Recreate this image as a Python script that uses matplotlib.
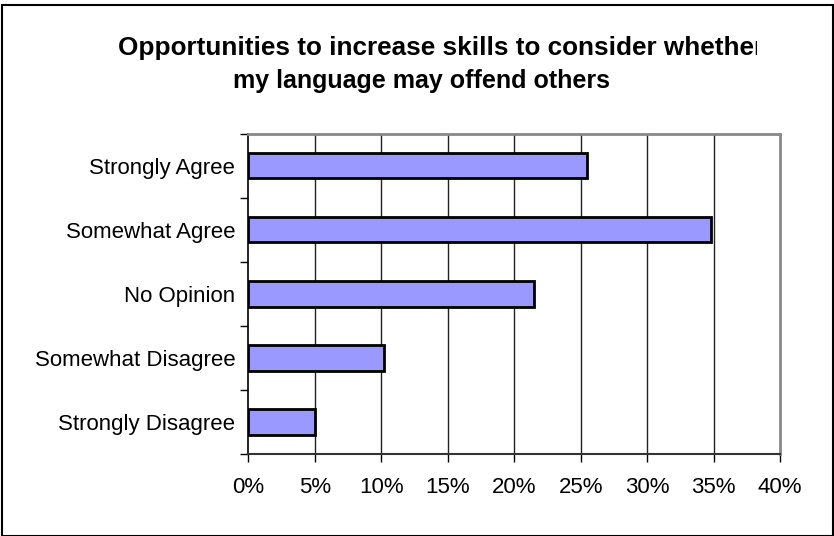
import matplotlib
matplotlib.use("Agg")
import matplotlib.pyplot as plt
from matplotlib.patches import Rectangle
from matplotlib.transforms import Bbox

categories = ["Strongly Agree", "Somewhat Agree", "No Opinion", "Somewhat Disagree", "Strongly Disagree"]
values = [25.5, 34.8, 21.5, 10.2, 5.0]
xticks = [0, 5, 10, 15, 20, 25, 30, 35, 40]
xticklabels = ["0%", "5%", "10%", "15%", "20%", "25%", "30%", "35%", "40%"]
title1 = "Opportunities to increase skills to consider whether"
title2 = "my language may offend others"

plt.rcParams['font.family'] = ['Liberation Sans', 'DejaVu Sans']

W, H = 834, 536
fig = plt.figure(figsize=(W / 100, H / 100), dpi=100)
ax = fig.add_axes([248.5 / W, (H - 454) / H, (780 - 248.5) / W, (454 - 133.5) / H])

ypos = list(range(len(categories)))
ax.barh(ypos, values, height=0.4, color="#9999FF", edgecolor="black", linewidth=2, zorder=3)

ax.set_xlim(0, 40)
ax.set_ylim(len(categories) - 0.5, -0.5)
ax.set_xticks(xticks)
ax.set_xticklabels(xticklabels, fontsize=16)
ax.set_yticks(ypos)
ax.set_yticklabels(categories, fontsize=16)
ax.set_yticks([i + 0.5 for i in range(-1, len(categories))], minor=True)
ax.tick_params(axis="y", which="major", length=0, pad=9.5)
ax.tick_params(axis="y", which="minor", length=6, width=1, direction="out")
ax.tick_params(axis="x", which="major", length=6, width=1, direction="out", pad=10.5)

for x in xticks[1:-1]:
    ax.axvline(x, color="#222222", linewidth=1, zorder=1)

ax.spines["top"].set_color("#888888")
ax.spines["top"].set_linewidth(2)
ax.spines["right"].set_color("#888888")
ax.spines["right"].set_linewidth(2)
ax.spines["left"].set_color("black")
ax.spines["left"].set_linewidth(1.2)
ax.spines["bottom"].set_color("#333333")
ax.spines["bottom"].set_linewidth(1.5)

t1 = fig.text(118 / W, 1 - 48 / H, title1, ha="left", va="center", fontsize=18.8, fontweight="bold")
t2 = fig.text(422 / W, 1 - 81 / H, title2, ha="center", va="center", fontsize=18, fontweight="bold")
t1.set_clip_box(Bbox.from_extents(0, 0, 757, H))
t1.set_clip_on(True)

border = Rectangle((1.5 / W, 0.5 / H), (W - 2.5) / W, (H - 5.5) / H, transform=fig.transFigure,
                   fill=False, edgecolor="black", linewidth=1.5)
fig.patches.append(border)

fig.savefig("out.png", dpi=100)
